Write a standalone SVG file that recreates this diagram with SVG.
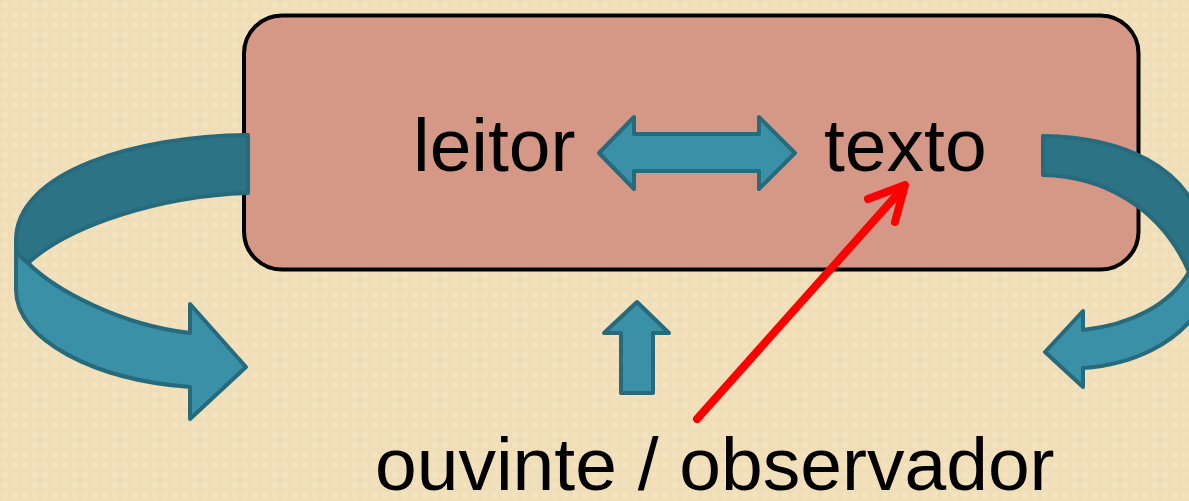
<svg xmlns="http://www.w3.org/2000/svg" width="1189" height="501" viewBox="0 0 1189 501">
  <defs>
    <!-- soft woven paper texture -->
    <pattern id="weave" width="10" height="10" patternUnits="userSpaceOnUse">
      <rect width="10" height="10" fill="#EFDEB7"/>
      <circle cx="5" cy="5" r="3.2" fill="#F3E4C2" opacity="0.6"/>
    </pattern>
    <style>
      .box { fill: #D59886; stroke: #000; stroke-width: 4; }
      .label { font-family: "Liberation Sans", Arial, sans-serif; font-size: 75px; fill: #000; }
      .blue { fill: #3990A7; stroke: #276A7C; stroke-width: 4; stroke-linejoin: round; }
      .blue-dark { fill: #2C7385; stroke: #276A7C; stroke-width: 4; stroke-linejoin: round; }
      .red { fill: none; stroke: #FF0000; stroke-width: 8; stroke-linecap: round; stroke-linejoin: round; }
    </style>
  </defs>

  <rect width="1189" height="501" fill="url(#weave)"/>

  <g id="frame">
    <rect class="box" x="244" y="15.5" width="894.5" height="254" rx="38" ry="38"/>
  </g>

  <g id="leitor">
    <text class="label" x="413" y="171">leitor</text>
  </g>

  <g id="texto">
    <text class="label" x="824" y="171">texto</text>
  </g>

  <g id="ouvinte-observador">
    <text class="label" x="375" y="490">ouvinte / observador</text>
  </g>

  <g id="connectors">
    <!-- two-way arrow between leitor and texto -->
    <polygon class="blue" points="599,153 634,117 634,134 759,134 759,117 795,153 759,189 759,171 634,171 634,189"/>

    <!-- upward arrow below the frame -->
    <polygon class="blue" points="637,302 669,333 653,333 653,393 621,393 621,333 604,333"/>

    <!-- left loop: back face, then front face with head -->
    <path class="blue-dark" d="M248,135 C135,136 16,172 16,240 L16,253 L28,263 C70,225 160,196 248,193 Z"/>
    <path class="blue" d="M16,253 L28,263 C55,290 120,325 190,333 L190,304 L246,367 L190,419 L190,387 C95,380 16,340 16,290 Z"/>

    <!-- right loop: back face, then front face with head -->
    <path class="blue-dark" d="M1043,136 C1120,137 1190,165 1205,235 L1205,270 L1189,272 C1160,205 1100,176 1043,175 Z"/>
    <path class="blue" d="M1189,272 L1205,270 L1205,300 C1180,345 1130,365 1083,368 L1083,387 L1045,352 L1083,311 L1083,330 C1130,325 1170,305 1189,272 Z"/>

    <!-- red pointer from the observer to the text -->
    <path class="red" d="M697,419 L903,188"/>
    <path class="red" d="M868,199 L905,185 L895,222"/>
  </g>
</svg>
